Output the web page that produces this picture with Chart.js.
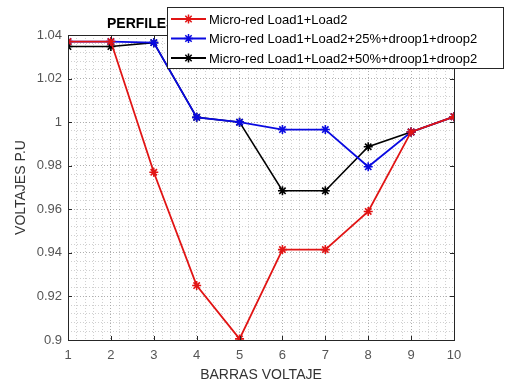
<!DOCTYPE html>
<html>
<head>
<meta charset="utf-8">
<script src="https://cdn.jsdelivr.net/npm/chart.js@4.4.0/dist/chart.umd.min.js"></script>
<style>
	html, body { margin: 0; padding: 0; background: #fff; }
	#wrap { width: 510px; height: 384px; }
</style>
</head>
<body>
<div id="wrap"><canvas id="perfil" width="510" height="384"></canvas></div>
<script>
// Barras (eje x)
var barras = [1, 2, 3, 4, 5, 6, 7, 8, 9, 10];
// Voltajes p.u.
var voltLoad = [1.037, 1.037, 0.977, 0.925, 0.9005, 0.9415, 0.9415, 0.959, 0.9955, 1.0025];
var voltDroop25 = [1.037, 1.037, 1.0365, 1.0022, 1.0, 0.9966, 0.9966, 0.9795, 0.9955, 1.0025];
var voltDroop50 = [1.0347, 1.0347, 1.0365, 1.0022, 1.0, 0.9685, 0.9685, 0.9887, 0.9955, 1.0025];
var nombres = [
	'Micro-red Load1+Load2',
	'Micro-red Load1+Load2+25%+droop1+droop2',
	'Micro-red Load1+Load2+50%+droop1+droop2'
];
var colores = ['rgb(225,20,20)', 'rgb(10,10,225)', 'rgb(0,0,0)'];
var yTicks = [0.9, 0.92, 0.94, 0.96, 0.98, 1, 1.02, 1.04];

var FONT = '"Liberation Sans", Arial, sans-serif';

function _serie(idx, valores) {
	return {
		label: nombres[idx],
		data: barras.map(function (b, i) { return { x: b, y: valores[i] }; }),
		borderColor: colores[idx],
		backgroundColor: colores[idx],
		borderWidth: idx === 2 ? 1.6 : 1.8,
		pointStyle: 'star',
		pointRadius: 4.5,
		pointBorderWidth: 1.6,
		pointBorderColor: colores[idx],
		tension: 0
	};
}

function _isMajor(v, step) {
	return Math.abs(v / step - Math.round(v / step)) < 1e-6;
}

// Titulo (tapado por la leyenda), leyenda y marcas internas de los ejes
var extras = {
	id: 'extras',
	afterDraw: function (chart) {
		var ctx = chart.ctx, area = chart.chartArea;
		var sx = chart.scales.x, sy = chart.scales.y;
		ctx.save();
		// marco
		ctx.strokeStyle = '#262626';
		ctx.lineWidth = 1;
		ctx.strokeRect(area.left + 0.5, area.top + 0.5, area.right - area.left, area.bottom - area.top);
		// ticks hacia adentro
		ctx.beginPath();
		yTicks.forEach(function (v) {
			var py = Math.round(sy.getPixelForValue(v)) + 0.5;
			ctx.moveTo(area.left, py); ctx.lineTo(area.left + 4, py);
			ctx.moveTo(area.right, py); ctx.lineTo(area.right - 4, py);
		});
		barras.forEach(function (b) {
			var px = Math.round(sx.getPixelForValue(b)) + 0.5;
			ctx.moveTo(px, area.bottom); ctx.lineTo(px, area.bottom - 4);
			ctx.moveTo(px, area.top); ctx.lineTo(px, area.top + 4);
		});
		ctx.stroke();

		// titulo
		ctx.fillStyle = '#000';
		ctx.font = 'bold 14px ' + FONT;
		ctx.textBaseline = 'middle';
		ctx.textAlign = 'left';
		ctx.fillText('PERFILES DE VOLTAJE', 107, 24);

		// leyenda
		var lx = 167, ly = 7, lw = 336, lh = 61;
		ctx.fillStyle = '#fff';
		ctx.fillRect(lx, ly, lw, lh);
		ctx.strokeStyle = '#262626';
		ctx.strokeRect(lx + 0.5, ly + 0.5, lw, lh);
		ctx.font = '13px ' + FONT;
		nombres.forEach(function (n, i) {
			var y = ly + 12 + i * 19.5;
			ctx.strokeStyle = colores[i];
			ctx.lineWidth = 1.8;
			ctx.beginPath();
			ctx.moveTo(171, y); ctx.lineTo(206, y);
			ctx.stroke();
			// asterisco
			ctx.lineWidth = 1.5;
			ctx.beginPath();
			for (var k = 0; k < 4; k++) {
				var a = k * Math.PI / 4;
				ctx.moveTo(188.5 - 4.5 * Math.cos(a), y - 4.5 * Math.sin(a));
				ctx.lineTo(188.5 + 4.5 * Math.cos(a), y + 4.5 * Math.sin(a));
			}
			ctx.stroke();
			ctx.fillStyle = '#000';
			ctx.fillText(n, 209, y + 1);
		});
		ctx.restore();
	}
};

var ctx = document.getElementById('perfil');
var perfilChart = new Chart(ctx, {
	type: 'line',
	data: {
		datasets: [_serie(0, voltLoad), _serie(1, voltDroop25), _serie(2, voltDroop50)]
	},
	plugins: [extras],
	options: {
		responsive: false,
		animation: false,
		layout: { padding: { left: 0, right: 56, top: 35, bottom: 0 } },
		plugins: {
			legend: { display: false },
			title: { display: false },
			tooltip: { enabled: false }
		},
		scales: {
			x: {
				type: 'linear',
				min: 1,
				max: 10,
				afterBuildTicks: function (axis) {
					var t = [];
					for (var v = 1; v <= 10.0001; v += 0.2) { t.push({ value: Math.round(v * 10) / 10 }); }
					axis.ticks = t;
				},
				afterFit: function (axis) { axis.height = 44; },
				grid: {
					drawTicks: false,
					color: function (c) { return _isMajor(c.tick.value, 1) ? 'rgba(120,120,120,0.6)' : 'rgba(150,150,150,0.45)'; },
					lineWidth: 1
				},
				border: { display: false, dash: [1, 2] },
				ticks: {
					autoSkip: false,
					maxRotation: 0,
					padding: 8,
					color: '#555',
					font: { family: FONT, size: 13 },
					callback: function (v) { return _isMajor(v, 1) ? String(Math.round(v)) : ''; }
				},
				title: {
					display: true,
					text: 'BARRAS VOLTAJE',
					color: '#333',
					font: { family: FONT, size: 14 },
					padding: { top: 0, bottom: 0 }
				}
			},
			y: {
				min: 0.9,
				max: 1.04,
				afterBuildTicks: function (axis) {
					var t = [];
					for (var i = 0; i <= 35; i++) { t.push({ value: Math.round((0.9 + i * 0.004) * 1000) / 1000 }); }
					axis.ticks = t;
				},
				afterFit: function (axis) { axis.width = 68; },
				grid: {
					drawTicks: false,
					color: function (c) { return _isMajor(c.tick.value, 0.02) ? 'rgba(120,120,120,0.6)' : 'rgba(150,150,150,0.45)'; },
					lineWidth: 1
				},
				border: { display: false, dash: [1, 2] },
				ticks: {
					autoSkip: false,
					padding: 6,
					color: '#555',
					font: { family: FONT, size: 13 },
					callback: function (v) {
						if (!_isMajor(v, 0.02)) { return ''; }
						return String(Math.round(v * 100) / 100);
					}
				},
				title: {
					display: true,
					text: 'VOLTAJES P.U',
					color: '#333',
					font: { family: FONT, size: 14 },
					padding: { top: 13, bottom: 0 }
				}
			}
		}
	}
});
</script>
</body>
</html>
